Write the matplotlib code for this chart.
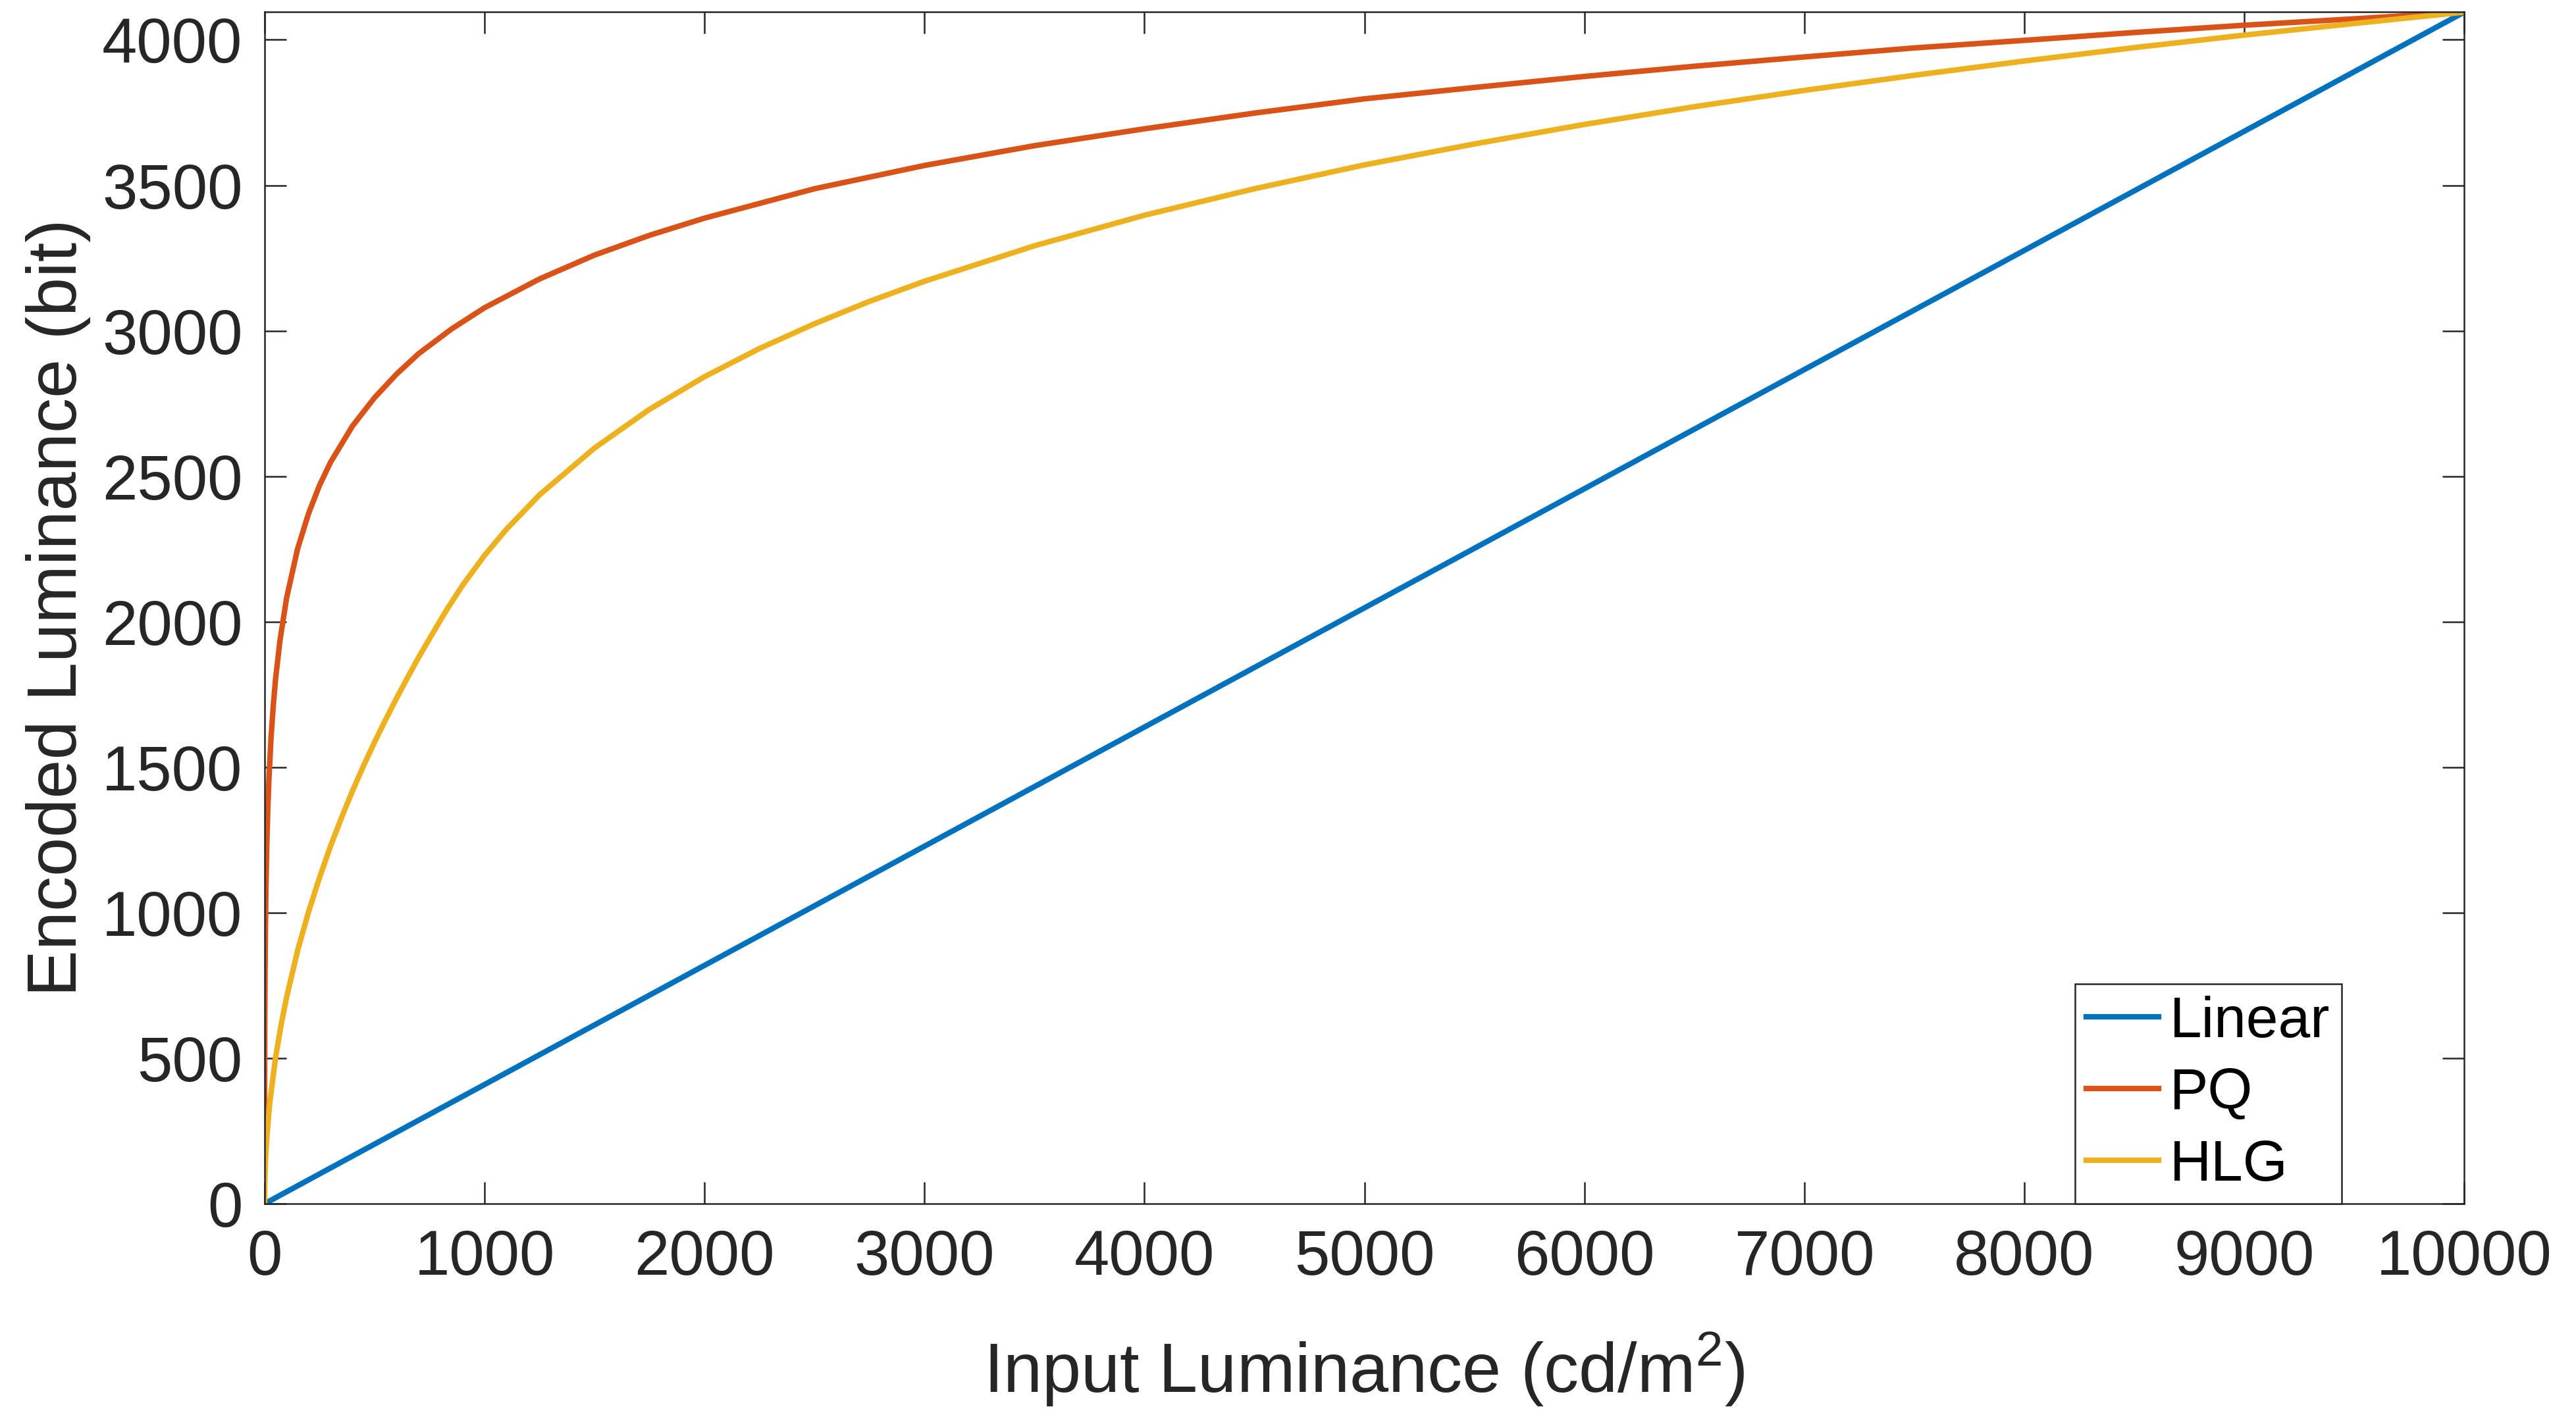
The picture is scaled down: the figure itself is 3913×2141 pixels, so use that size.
import matplotlib
matplotlib.use("Agg")
import matplotlib.pyplot as plt

# input luminance (cd/m^2) and encoded 12-bit code values
linear_x = [0, 10000]
linear_y = [0, 4095]

pq_x = [0, 0.001, 0.01, 0.05, 0.1, 0.2, 0.5, 1, 2, 3, 5, 7, 10, 15, 20, 30, 40,
        50, 70, 100, 150, 200, 250, 300, 400, 500, 600, 700, 850, 1000, 1250,
        1500, 1750, 2000, 2500, 3000, 3500, 4000, 4500, 5000, 5500, 6000, 6500,
        7000, 7500, 8000, 8500, 9000, 9500, 10000]
pq_y = [0, 26, 88, 189, 255, 339, 481, 615, 770, 874, 1015, 1115, 1227, 1362,
        1461, 1608, 1715, 1803, 1935, 2081, 2250, 2372, 2469, 2548, 2673, 2770,
        2851, 2921, 3006, 3079, 3178, 3260, 3328, 3387, 3488, 3568, 3636, 3694,
        3748, 3797, 3836, 3874, 3909, 3941, 3972, 3998, 4025, 4050, 4072, 4095]

hlg_x = [0, 1, 2.5, 5, 10, 20, 25, 50, 75, 100, 150, 200, 250, 300, 350, 400,
         450, 500, 550, 600, 650, 700, 750, 800, 833, 900, 1000, 1100, 1250,
         1500, 1750, 2000, 2250, 2500, 2750, 3000, 3500, 4000, 4500, 5000, 5500,
         6000, 6500, 7000, 7500, 8000, 8500, 9000, 9500, 10000]
hlg_y = [0, 71, 112, 159, 224, 317, 355, 502, 614, 709, 869, 1003, 1121, 1229,
         1327, 1419, 1505, 1586, 1663, 1737, 1808, 1877, 1942, 2006, 2047, 2125,
         2228, 2318, 2436, 2597, 2730, 2842, 2939, 3024, 3101, 3170, 3292, 3397,
         3488, 3570, 3642, 3709, 3770, 3826, 3878, 3927, 3973, 4016, 4056, 4095]

series = [
    ("Linear", linear_x, linear_y, "#0072BD"),
    ("PQ", pq_x, pq_y, "#D95319"),
    ("HLG", hlg_x, hlg_y, "#EDB120"),
]

plt.rcParams["font.family"] = ["Liberation Sans", "DejaVu Sans"]
plt.rcParams["mathtext.default"] = "regular"
ink = "#262626"

fig = plt.figure(figsize=(3913 / 300, 2141 / 300), dpi=300)
ax = fig.add_axes([0.1027, 0.1457, 0.8539, 0.8459])

for name, xs, ys, color in series:
    ax.plot(xs, ys, color=color, linewidth=2.0, label=name)

ax.set_xlim(0, 10000)
ax.set_ylim(0, 4096)
ax.set_xticks(range(0, 10001, 1000))
ax.set_yticks(range(0, 4001, 500))

ax.tick_params(axis="both", direction="in", length=8, width=0.6, colors=ink,
               labelsize=23, top=True, right=True)
ax.tick_params(axis="x", pad=9)
ax.tick_params(axis="y", pad=8)
for sp in ax.spines.values():
    sp.set_color(ink)
    sp.set_linewidth(0.6)

ax.set_xlabel("Input Luminance (cd/m$^2$)", fontsize=25.5, color=ink, labelpad=16)
ax.set_ylabel("Encoded Luminance (bit)", fontsize=25.5, color=ink, labelpad=4)

leg = ax.legend(loc="lower right", bbox_to_anchor=(0.9443, 0.0), borderaxespad=0,
                fontsize=21, handlelength=1.25, handletextpad=0.2,
                labelspacing=0.32, borderpad=0.2, fancybox=False, framealpha=1)
leg.get_frame().set_edgecolor(ink)
leg.get_frame().set_linewidth(0.6)

fig.savefig("out.png", dpi=300)
